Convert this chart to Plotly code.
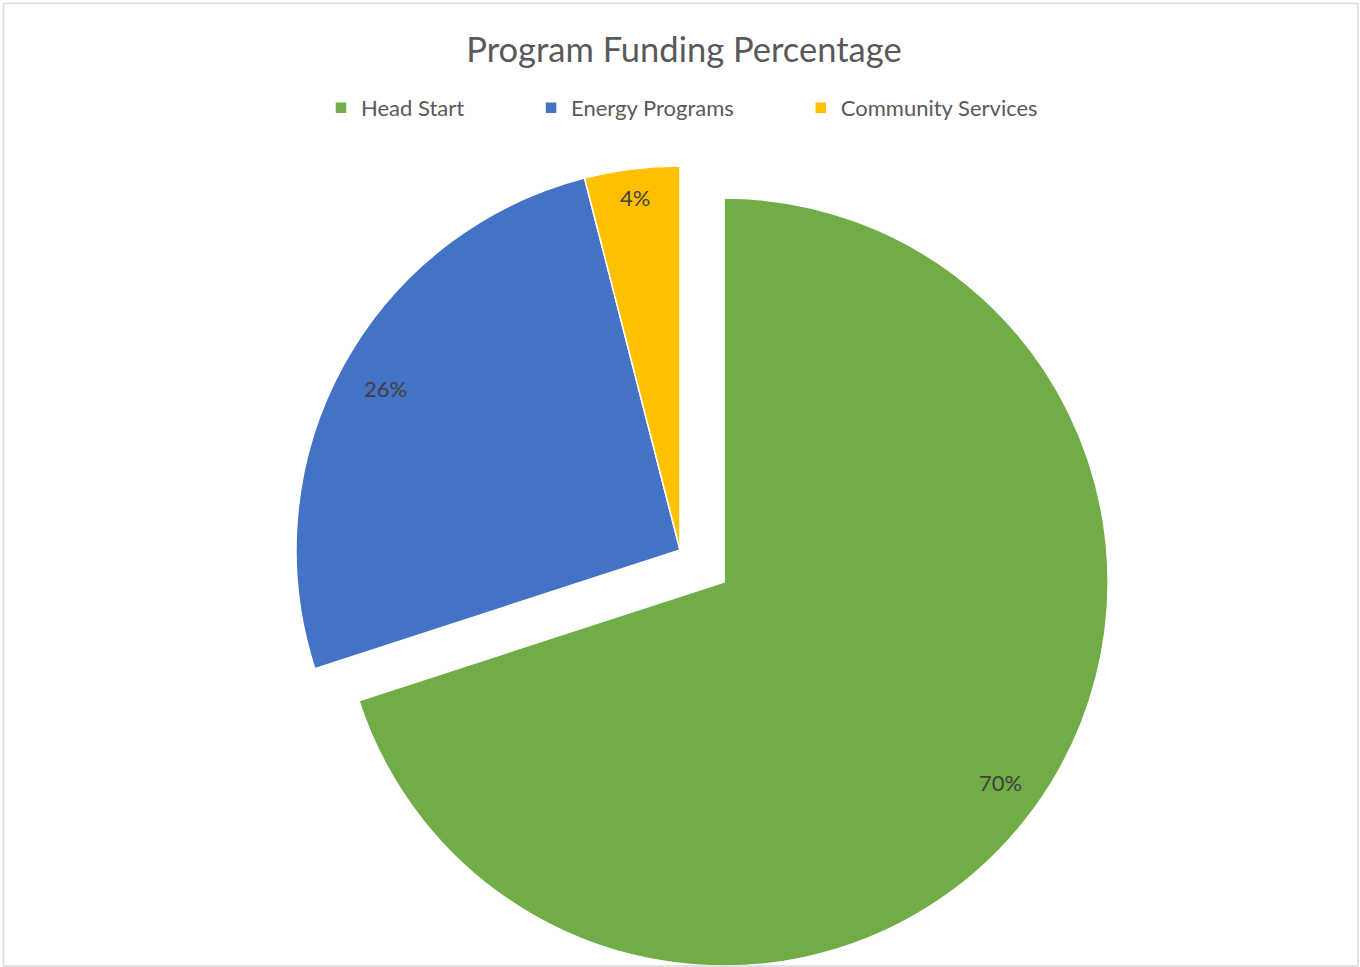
import math
import plotly.graph_objects as go

# ---- data ----
categories = ["Head Start", "Energy Programs", "Community Services"]
values = [70, 26, 4]
colors = ["#70AD47", "#4472C4", "#FFC000"]
pulls = [0.142, 0.0, 0.0]
title_text = "Program Funding Percentage"

# ---- layout constants (pixels) ----
W, H = 1360, 990
CX, CY, R = 680, 550, 384
LABEL_R = [0.89, 0.875, 0.925]
FONT = "Lato"
PAD = "\u00a0" * 11

max_pull = max(pulls)
box = 2 * R * (1 + max_pull)
dom_x = [(CX - box / 2) / W, (CX + box / 2) / W]
dom_y = [max(0, 1 - (CY + box / 2) / H), 1 - (CY - box / 2) / H]

legend_names = [c + (PAD if i < len(categories) - 1 else "") for i, c in enumerate(categories)]

fig = go.Figure(
    go.Pie(
        labels=legend_names,
        values=values,
        sort=False,
        direction="clockwise",
        rotation=0,
        pull=pulls,
        marker=dict(colors=colors, line=dict(color="white", width=1.5)),
        textinfo="none",
        hoverinfo="label+percent",
        domain=dict(x=dom_x, y=dom_y),
        showlegend=True,
    )
)

# percentage labels placed along each slice's bisector (derived from the data)
total = sum(values)
cum = 0
for i, v in enumerate(values):
    mid = 2 * math.pi * (cum + v / 2) / total
    cum += v
    dx, dy = math.sin(mid), -math.cos(mid)
    off = (pulls[i] + LABEL_R[i]) * R
    px, py = CX + dx * off, CY + dy * off
    fig.add_annotation(
        x=px / W, y=1 - py / H, xref="paper", yref="paper",
        text=f"{round(100 * v / total)}%", showarrow=False,
        font=dict(family=FONT, size=22, color="#404040"),
        xanchor="center", yanchor="middle",
    )

# chart-area border
fig.add_shape(
    type="rect", xref="paper", yref="paper",
    x0=3.5 / W, x1=1358 / W, y0=1 - 966 / H, y1=1 - 3.5 / H,
    line=dict(color="#D9D9D9", width=1.5), fillcolor="rgba(0,0,0,0)",
)

fig.update_layout(
    width=W, height=H,
    margin=dict(l=0, r=0, t=0, b=0),
    paper_bgcolor="white", plot_bgcolor="white",
    font=dict(family=FONT, color="#595959"),
    title=dict(
        text=title_text, x=684 / W, xref="container", xanchor="center",
        y=1 - 50 / H, yref="container", yanchor="middle",
        font=dict(family=FONT, size=34.5, color="#595959"),
    ),
    legend=dict(
        orientation="h", x=682 / W, xanchor="center",
        y=1 - 108 / H, yanchor="middle",
        font=dict(family=FONT, size=22, color="#595959"),
        itemwidth=30, traceorder="normal",
    ),
)

fig.write_html(
    "out.html",
    config={"displayModeBar": False},
    post_script="document.body.style.margin='0';document.body.style.overflow='hidden';document.documentElement.style.overflow='hidden';",
)
